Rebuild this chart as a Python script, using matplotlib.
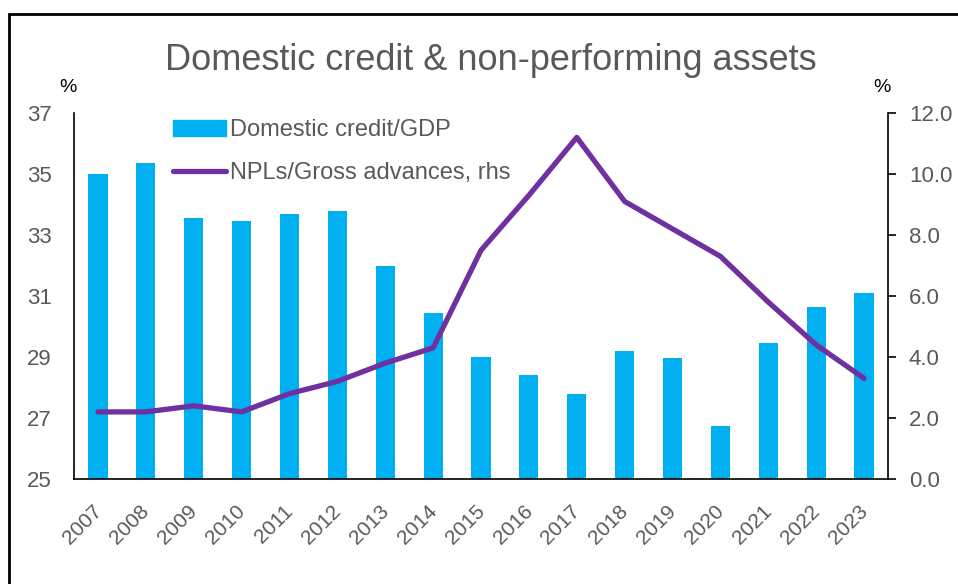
import numpy as np
import matplotlib
matplotlib.use('Agg')
import matplotlib.pyplot as plt
import matplotlib.transforms as mtransforms
from matplotlib.patches import Rectangle
from matplotlib.lines import Line2D

plt.rcParams['font.family'] = ['Liberation Sans', 'DejaVu Sans']

years = ['2007', '2008', '2009', '2010', '2011', '2012', '2013', '2014', '2015',
         '2016', '2017', '2018', '2019', '2020', '2021', '2022', '2023']
credit_gdp = [35.0, 35.35, 33.55, 33.45, 33.7, 33.8, 32.0, 30.45, 29.0,
              28.4, 27.8, 29.2, 28.97, 26.75, 29.45, 30.65, 31.1]
npl_ratio = [2.2, 2.2, 2.4, 2.2, 2.8, 3.2, 3.8, 4.3, 7.5,
             9.3, 11.2, 9.1, 8.2, 7.3, 5.8, 4.4, 3.3]

bar_col = '#00B0F0'
line_col = '#7030A0'
txt_col = '#595959'

W, H = 958, 584
fig = plt.figure(figsize=(W / 100, H / 100), dpi=100)

# outer frame of the exhibit
fig.add_artist(Rectangle((9 / W, -0.1), 1.2, (H - 14) / H + 0.1,
                         transform=fig.transFigure, fill=False,
                         edgecolor='black', linewidth=2))

ax = fig.add_axes([74 / W, 1 - 479 / H, (888 - 74) / W, (479 - 113) / H])
x = np.arange(len(years))
ax.bar(x, np.array(credit_gdp) - 25, bottom=25, width=0.4, color=bar_col)
ax.set_ylim(25, 37)
ax.set_xlim(-0.5, len(years) - 0.5)
ax.set_yticks(range(25, 38, 2))
ax.tick_params(axis='y', length=0, labelsize=16, labelcolor=txt_col, pad=16)
ax.set_xticks(x)
ax.set_xticklabels(years, rotation=45, ha='right', rotation_mode='anchor')
ax.tick_params(axis='x', length=0, labelsize=15, labelcolor=txt_col, pad=16)
shift = mtransforms.ScaledTranslation(-6 / 100, 0, fig.dpi_scale_trans)
for lab in ax.get_xticklabels():
    lab.set_transform(lab.get_transform() + shift)
for s in ['top', 'right']:
    ax.spines[s].set_visible(False)
ax.spines['left'].set_linewidth(1.2)
ax.spines['bottom'].set_linewidth(1.2)

ax2 = ax.twinx()
ax2.plot(x, npl_ratio, color=line_col, linewidth=3.8, solid_capstyle='round')
ax2.set_ylim(0, 12)
ax2.set_yticks(np.arange(0, 12.1, 2))
ax2.set_yticklabels([f'{v:.1f}' for v in np.arange(0, 12.1, 2)])
ax2.tick_params(axis='y', direction='out', length=6, width=1.2,
                labelsize=16, labelcolor=txt_col, pad=9)
for s in ['top', 'left', 'bottom']:
    ax2.spines[s].set_visible(False)
ax2.spines['right'].set_linewidth(1.2)

fig.text(68 / W, 1 - 88 / H, '%', fontsize=14, ha='center', va='center')
fig.text(882 / W, 1 - 88 / H, '%', fontsize=14, ha='center', va='center')

fig.text(491 / W, 1 - 60 / H, 'Domestic credit & non-performing assets',
         fontsize=26, color=txt_col, ha='center', va='center')

handles = [Rectangle((0, 0), 1, 1, color=bar_col),
           Line2D([0], [0], color=line_col, linewidth=3.8, solid_capstyle='round')]
ax.legend(handles, ['Domestic credit/GDP', 'NPLs/Gross advances, rhs'],
          loc='upper left', bbox_to_anchor=(0.095, 1.041), frameon=False,
          fontsize=17, labelcolor=txt_col, handlelength=2.25,
          handletextpad=0.2, labelspacing=0.88)

fig.savefig('out.png', dpi=100)
